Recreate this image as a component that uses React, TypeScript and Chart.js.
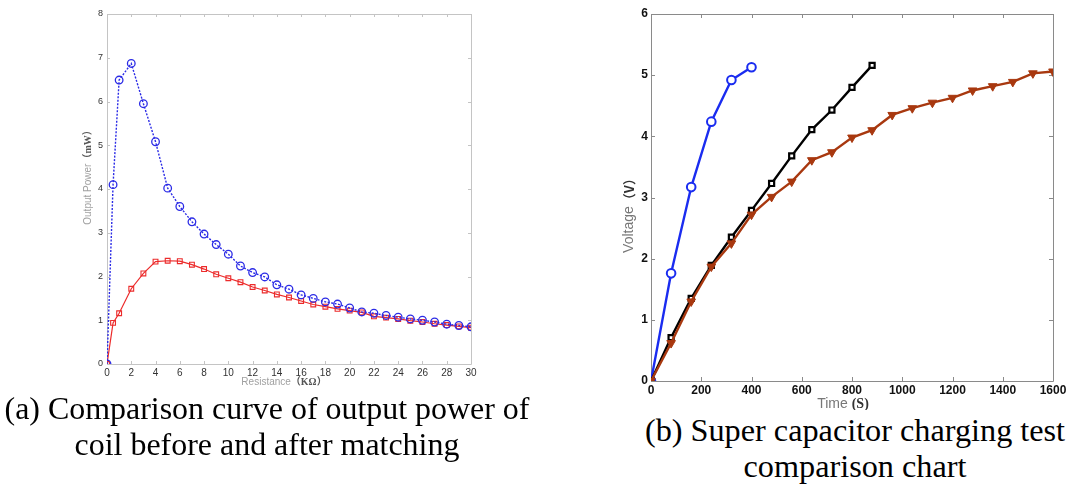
import React, { useEffect, useRef } from "react";
import { Chart, registerables } from "chart.js";
Chart.register(...registerables);

// ---------- (a) Output power vs resistance ----------
const resistance = [0, 0.5, 1, 2, 3, 4, 5, 6, 7, 8, 9, 10, 11, 12, 13, 14, 15, 16, 17, 18, 19, 20, 21, 22, 23, 24, 25, 26, 27, 28, 29, 30];
const powerBefore = [0, 4.1, 6.49, 6.87, 5.95, 5.08, 4.02, 3.6, 3.25, 2.97, 2.73, 2.51, 2.24, 2.09, 1.99, 1.81, 1.71, 1.58, 1.5, 1.42, 1.37, 1.28, 1.19, 1.16, 1.11, 1.07, 1.03, 1.0, 0.96, 0.91, 0.88, 0.85];
const powerAfter = [0, 0.94, 1.16, 1.72, 2.07, 2.34, 2.36, 2.35, 2.27, 2.17, 2.05, 1.96, 1.87, 1.76, 1.68, 1.59, 1.52, 1.44, 1.36, 1.31, 1.26, 1.22, 1.18, 1.09, 1.06, 1.03, 0.99, 0.96, 0.92, 0.89, 0.86, 0.83];
const resistanceRange = [0, 30];
const resistanceStep = 2;
const powerRange = [0, 8];
const powerStep = 1;

// ---------- (b) Super capacitor charging ----------
const timeBlue = [0, 80, 160, 240, 320, 400];
const voltBlue = [0, 1.76, 3.17, 4.24, 4.92, 5.13];
const timeBlack = [0, 80, 160, 240, 320, 400, 480, 560, 640, 720, 800, 880];
const voltBlack = [0, 0.71, 1.35, 1.89, 2.35, 2.79, 3.23, 3.68, 4.11, 4.43, 4.8, 5.16];
const timeBrown = [0, 80, 160, 240, 320, 400, 480, 560, 640, 720, 800, 880, 960, 1040, 1120, 1200, 1280, 1360, 1440, 1520, 1600];
const voltBrown = [0, 0.62, 1.3, 1.87, 2.25, 2.72, 3.01, 3.26, 3.61, 3.74, 3.98, 4.1, 4.35, 4.46, 4.55, 4.63, 4.75, 4.82, 4.89, 5.03, 5.06];
const timeRange = [0, 1600];
const timeStep = 200;
const voltRange = [0, 6];
const voltStep = 1;

const captionA = ["(a) Comparison curve of output power of", "coil before and after matching"];
const captionB = ["(b) Super capacitor charging test", "comparison chart"];

const pts = (xs: number[], ys: number[]) => xs.map((x, i) => ({ x, y: ys[i] }));
const plain = (v: any) => String(v);

type Part = { text: string; font: string; color: string };
type TitleSpec = { parts: Part[]; axis: "x" | "y"; dx: number; dy: number };

const boxPlugin = {
  id: "matlabBox",
  beforeDatasetsDraw(chart: any, _args: any, opts: any) {
    const { ctx, chartArea } = chart;
    const { left, right, top, bottom } = chartArea;
    const xs = chart.scales.x;
    const ys = chart.scales.y;
    const len = opts.tickLen || 4;
    ctx.save();
    ctx.strokeStyle = opts.color || "#888";
    ctx.lineWidth = 1;
    ctx.beginPath();
    ctx.rect(Math.round(left) + 0.5, Math.round(top) + 0.5, Math.round(right - left), Math.round(bottom - top));
    ctx.stroke();
    ctx.beginPath();
    xs.ticks.forEach((t: any) => {
      const px = Math.round(xs.getPixelForValue(t.value)) + 0.5;
      ctx.moveTo(px, bottom);
      ctx.lineTo(px, bottom - len);
      ctx.moveTo(px, top);
      ctx.lineTo(px, top + len);
    });
    ys.ticks.forEach((t: any) => {
      const py = Math.round(ys.getPixelForValue(t.value)) + 0.5;
      ctx.moveTo(left, py);
      ctx.lineTo(left + len, py);
      ctx.moveTo(right, py);
      ctx.lineTo(right - len, py);
    });
    ctx.stroke();
    ctx.restore();
  },
  afterDraw(chart: any, _args: any, opts: any) {
    const { ctx, chartArea } = chart;
    const titles: TitleSpec[] = opts.titles || [];
    titles.forEach((t) => {
      ctx.save();
      let cx, cy;
      if (t.axis === "y") {
        cx = chartArea.left + t.dx;
        cy = (chartArea.top + chartArea.bottom) / 2 + t.dy;
      } else {
        cx = (chartArea.left + chartArea.right) / 2 + t.dx;
        cy = chartArea.bottom + t.dy;
      }
      ctx.translate(cx, cy);
      if (t.axis === "y") ctx.rotate(-Math.PI / 2);
      const widths = t.parts.map((p) => {
        ctx.font = p.font;
        return ctx.measureText(p.text).width;
      });
      const total = widths.reduce((a, b) => a + b, 0);
      let x = -total / 2;
      ctx.textBaseline = "middle";
      ctx.textAlign = "left";
      t.parts.forEach((p, i) => {
        ctx.font = p.font;
        ctx.fillStyle = p.color;
        ctx.fillText(p.text, x, 0);
        x += widths[i];
      });
      ctx.restore();
    });
  },
};

function ChartA() {
  const ref = useRef<HTMLCanvasElement | null>(null);
  useEffect(() => {
    const chart = new Chart(ref.current as HTMLCanvasElement, {
      type: "line",
      data: {
        datasets: [
          {
            data: pts(resistance, powerBefore),
            borderColor: "#2b2be6",
            borderWidth: 1.4,
            borderDash: [2, 1.5],
            pointStyle: "circle",
            pointRadius: 3.8,
            pointBorderWidth: 1.3,
            pointBorderColor: "#2b2be6",
            pointBackgroundColor: "rgba(255,255,255,0)",
            tension: 0,
          },
          {
            data: pts(resistance, powerAfter),
            borderColor: "#ec2b2b",
            borderWidth: 1.2,
            pointStyle: "rect",
            pointRadius: 3.4,
            pointBorderWidth: 1.1,
            pointBorderColor: "#ec2b2b",
            pointBackgroundColor: "rgba(255,255,255,0)",
            tension: 0,
          },
        ],
      },
      options: {
        responsive: false,
        animation: false,
        layout: { padding: { top: 14, right: 19, left: 0, bottom: 0 } },
        plugins: {
          legend: { display: false },
          tooltip: { enabled: false },
          matlabBox: {
            color: "#c4c4c4",
            tickLen: 3,
            titles: [
              {
                axis: "y",
                dx: -19,
                dy: -14,
                parts: [
                  { text: "Output Power", font: "10px 'Liberation Sans', Arial", color: "#a0a0a0" },
                  { text: "（mW）", font: "bold 10px 'Liberation Serif', 'Noto Sans CJK SC'", color: "#555" },
                ],
              },
              {
                axis: "x",
                dx: -5,
                dy: 18,
                parts: [
                  { text: "Resistance", font: "10px 'Liberation Sans', Arial", color: "#a0a0a0" },
                  { text: "（KΩ）", font: "bold 10px 'Liberation Serif', 'Noto Sans CJK SC'", color: "#555" },
                ],
              },
            ],
          },
        } as any,
        scales: {
          x: {
            type: "linear",
            min: resistanceRange[0],
            max: resistanceRange[1],
            grid: { display: false, drawTicks: false },
            border: { display: false },
            ticks: { stepSize: resistanceStep, padding: 3, color: "#333", callback: plain, font: { size: 10, family: "'Liberation Sans', Arial" }, maxRotation: 0 },
            afterFit: (s: any) => { s.height = 31; },
          },
          y: {
            type: "linear",
            min: powerRange[0],
            max: powerRange[1],
            grid: { display: false, drawTicks: false },
            border: { display: false },
            ticks: { stepSize: powerStep, padding: 4, color: "#333", callback: plain, font: { size: 9, family: "'Liberation Sans', Arial" } },
            afterFit: (s: any) => { s.width = 47; },
          },
        },
      },
      plugins: [boxPlugin],
    });
    return () => chart.destroy();
  }, []);
  return <canvas ref={ref} width={430} height={395} style={{ position: "absolute", left: 60, top: 0, width: 430, height: 395 }} />;
}

function ChartB() {
  const ref = useRef<HTMLCanvasElement | null>(null);
  useEffect(() => {
    const chart = new Chart(ref.current as HTMLCanvasElement, {
      type: "line",
      data: {
        datasets: [
          {
            data: pts(timeBrown, voltBrown),
            borderColor: "#a8380f",
            borderWidth: 2.4,
            pointStyle: "triangle",
            rotation: 180,
            pointRadius: 5,
            pointBorderWidth: 1,
            pointBorderColor: "#a8380f",
            pointBackgroundColor: "#a8380f",
            tension: 0,
          },
          {
            data: pts(timeBlack, voltBlack),
            borderColor: "#000000",
            borderWidth: 2.4,
            pointStyle: "rect",
            pointRadius: 3.6,
            pointBorderWidth: 2.2,
            pointBorderColor: "#000000",
            pointBackgroundColor: "#ffffff",
            tension: 0,
          },
          {
            data: pts(timeBlue, voltBlue),
            borderColor: "#1a2cf0",
            borderWidth: 2.4,
            pointStyle: "circle",
            pointRadius: 4.3,
            pointBorderWidth: 2,
            pointBorderColor: "#1a2cf0",
            pointBackgroundColor: "#ffffff",
            tension: 0,
          },
        ] as any,
      },
      options: {
        responsive: false,
        animation: false,
        layout: { padding: { top: 14, right: 16, left: 0, bottom: 0 } },
        plugins: {
          legend: { display: false },
          tooltip: { enabled: false },
          matlabBox: {
            color: "#8a8a8a",
            tickLen: 4,
            titles: [
              {
                axis: "y",
                dx: -22,
                dy: 15,
                parts: [
                  { text: "Voltage", font: "14px 'Liberation Sans', Arial", color: "#777" },
                  { text: "（V）", font: "bold 13px 'Noto Sans CJK SC', 'Liberation Serif'", color: "#333" },
                ],
              },
              {
                axis: "x",
                dx: -9,
                dy: 23,
                parts: [
                  { text: "Time ", font: "14px 'Liberation Sans', Arial", color: "#777" },
                  { text: "(S)", font: "bold 14px 'Liberation Serif', serif", color: "#333" },
                ],
              },
            ],
          },
        } as any,
        scales: {
          x: {
            type: "linear",
            min: timeRange[0],
            max: timeRange[1],
            grid: { display: false, drawTicks: false },
            border: { display: false },
            ticks: { stepSize: timeStep, padding: 2, color: "#111", callback: plain, font: { size: 12, weight: "bold", family: "'Liberation Sans', Arial" }, maxRotation: 0 },
            afterFit: (s: any) => { s.height = 29; },
          },
          y: {
            type: "linear",
            min: voltRange[0],
            max: voltRange[1],
            grid: { display: false, drawTicks: false },
            border: { display: false },
            ticks: { stepSize: voltStep, padding: 3, color: "#111", callback: plain, font: { size: 12, weight: "bold", family: "'Liberation Sans', Arial" } },
            afterFit: (s: any) => { s.width = 51; },
          },
        },
      },
      plugins: [boxPlugin],
    });
    return () => chart.destroy();
  }, []);
  return <canvas ref={ref} width={469} height={410} style={{ position: "absolute", left: 600, top: 0, width: 469, height: 410 }} />;
}

const capStyle: React.CSSProperties = {
  position: "absolute",
  fontFamily: "'Liberation Serif', 'Times New Roman', serif",
  fontSize: 31,
  color: "#000",
  whiteSpace: "nowrap",
  lineHeight: "36px",
  textAlign: "center",
  transformOrigin: "center",
};

export default function App() {
  return (
    <div style={{ position: "absolute", left: 0, top: 0, width: 1069, height: 486, background: "#fff", overflow: "hidden" }}>
      <ChartA />
      <ChartB />
      <div style={{ ...capStyle, left: 0, top: 391, width: 534, transform: "scaleX(1.03)" }}>
        <div>{captionA[0]}</div>
        <div>{captionA[1]}</div>
      </div>
      <div style={{ ...capStyle, left: 640, top: 413, width: 430, transform: "scaleX(1.04)" }}>
        <div>{captionB[0]}</div>
        <div>{captionB[1]}</div>
      </div>
    </div>
  );
}
